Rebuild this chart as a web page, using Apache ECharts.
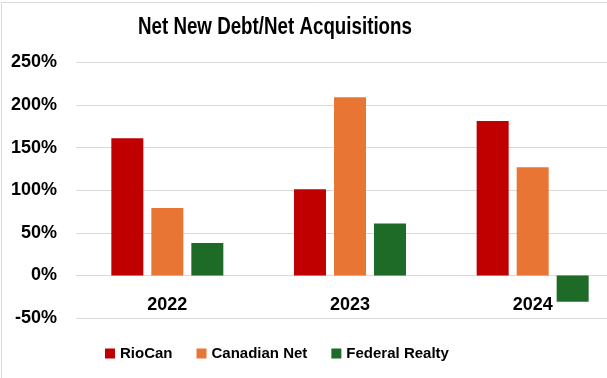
<!DOCTYPE html>
<html>
<head>
<meta charset="utf-8">
<script src="https://cdn.jsdelivr.net/npm/echarts@6/dist/echarts.min.js"></script>
<style>
  html, body { margin: 0; padding: 0; background: #fff; overflow: hidden; }
  /* plot runs past the right edge of the window, as in the reference */
  #chart { width: 624px; height: 378px; }
</style>
</head>
<body>
<div id="chart"></div>
<script>
// values (fractions, shown as %)
const years = ["2022", "2023", "2024"];
const rioCan = [1.61, 1.01, 1.81];
const canadianNet = [0.79, 2.09, 1.27];
const federalRealty = [0.38, 0.61, -0.31];

const titleText = "Net New Debt/Net Acquisitions";
const font = "'Liberation Sans', Arial, sans-serif";

const chart = echarts.init(document.getElementById("chart"));

function bar(name, data, color) {
  return {
    name: name,
    type: "bar",
    data: data,
    barWidth: 32,
    barGap: "25%",
    itemStyle: { color: color },
    animation: false
  };
}

chart.setOption({
  backgroundColor: "#fff",
  legend: {
    top: 346,
    left: 105,
    padding: 0,
    itemWidth: 10,
    itemHeight: 10,
    itemGap: 24,
    icon: "rect",
    textStyle: { fontFamily: font, fontSize: 15, fontWeight: "bold", color: "#000" }
  },
  grid: { left: 76, right: 0, top: 62.3, bottom: 60, containLabel: false },
  xAxis: {
    type: "category",
    data: years,
    // axis sits on the 0% line
    offset: -42.7,
    axisLine: { show: true, onZero: false, lineStyle: { color: "#d9d9d9" } },
    axisTick: { show: false },
    axisLabel: { fontFamily: font, fontSize: 18, fontWeight: "bold", color: "#000", margin: 21 }
  },
  yAxis: {
    type: "value",
    min: -0.5,
    max: 2.5,
    interval: 0.5,
    axisLine: { show: false },
    axisTick: { show: false },
    splitLine: { lineStyle: { color: "#d9d9d9" } },
    axisLabel: {
      fontFamily: font, fontSize: 18, fontWeight: "bold", color: "#000", margin: 19,
      formatter: v => Math.round(v * 100) + "%"
    }
  },
  graphic: [
    {
      type: "rect",
      shape: { x: 1.5, y: 2.5, width: 640, height: 400 },
      style: { fill: "none", stroke: "#d9d9d9", lineWidth: 1 },
      silent: true
    },
    {
      // condensed bold title
      type: "text",
      x: 138,
      y: 28,
      scaleX: 0.815,
      style: {
        text: titleText,
        font: "bold 23px " + font,
        fill: "#000",
        align: "left",
        verticalAlign: "middle"
      }
    }
  ],
  series: [
    bar("RioCan", rioCan, "#C00000"),
    bar("Canadian Net", canadianNet, "#E97535"),
    bar("Federal Realty", federalRealty, "#1D6B26")
  ]
});
</script>
</body>
</html>
